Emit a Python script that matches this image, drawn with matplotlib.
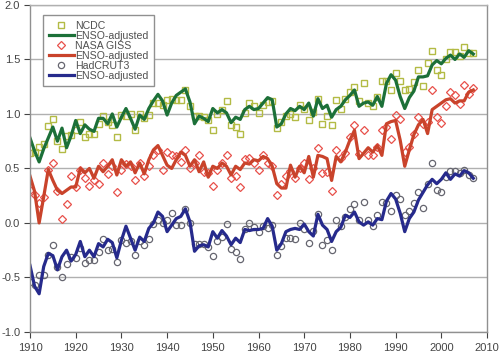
import matplotlib
matplotlib.use('Agg')
import matplotlib.pyplot as plt
import numpy as np

plt.rcParams['font.family'] = ['Liberation Sans', 'DejaVu Sans']

#Years
years = np.arange(1910, 2008)

#NCDC (offset) and ENSO-adjusted
ncdc = [0.64, 0.65, 0.70, 0.72, 0.89, 0.95, 0.75, 0.68, 0.80, 0.81,
        0.85, 0.93, 0.79, 0.82, 0.82, 0.91, 0.98, 0.93, 0.90, 0.79,
        0.99, 0.98, 1.00, 0.85, 1.00, 0.96, 0.99, 1.10, 1.10, 1.08,
        1.13, 1.14, 1.13, 1.13, 1.22, 1.07, 0.98, 0.98, 0.97, 0.94,
        0.85, 1.00, 1.04, 1.12, 0.90, 0.88, 0.82, 1.01, 1.10, 1.07,
        1.01, 1.08, 1.11, 1.12, 0.87, 0.93, 0.98, 1.00, 0.97, 1.08,
        1.05, 0.94, 1.02, 1.14, 0.91, 0.98, 0.90, 1.13, 1.05, 1.14,
        1.20, 1.25, 1.12, 1.28, 1.10, 1.07, 1.16, 1.30, 1.30, 1.22,
        1.38, 1.30, 1.22, 1.23, 1.29, 1.40, 1.26, 1.47, 1.58, 1.40,
        1.36, 1.50, 1.57, 1.57, 1.53, 1.61, 1.56, 1.56]
ncdc_adj = [0.78, 0.66, 0.56, 0.68, 0.78, 0.88, 0.75, 0.87, 0.69, 0.80,
            0.94, 0.82, 0.90, 0.86, 0.84, 0.96, 0.96, 0.91, 1.00, 0.88,
            0.97, 1.05, 0.96, 0.86, 0.99, 0.95, 1.05, 1.12, 1.18, 1.12,
            0.99, 1.10, 1.17, 1.20, 1.23, 1.11, 0.91, 0.98, 0.96, 0.93,
            1.05, 1.01, 1.04, 1.01, 0.92, 0.97, 0.95, 1.04, 1.07, 1.04,
            1.05, 1.10, 1.15, 1.13, 0.88, 0.91, 1.00, 1.05, 1.03, 1.07,
            1.04, 1.10, 0.98, 1.14, 1.05, 1.08, 0.97, 1.04, 1.07, 1.13,
            1.17, 1.22, 1.07, 1.10, 1.11, 1.08, 1.16, 1.07, 1.28, 1.36,
            1.31, 1.16, 1.05, 1.15, 1.21, 1.34, 1.34, 1.35, 1.45, 1.49,
            1.46, 1.51, 1.54, 1.50, 1.55, 1.52, 1.58, 1.55]

#NASA GISS (offset) and ENSO-adjusted
giss = [0.30, 0.26, 0.18, 0.24, 0.49, 0.55, 0.29, 0.04, 0.17, 0.43,
        0.33, 0.49, 0.41, 0.34, 0.39, 0.36, 0.55, 0.45, 0.52, 0.28,
        0.49, 0.54, 0.52, 0.39, 0.55, 0.43, 0.52, 0.62, 0.67, 0.49,
        0.65, 0.62, 0.61, 0.56, 0.67, 0.50, 0.55, 0.62, 0.47, 0.46,
        0.34, 0.49, 0.55, 0.62, 0.41, 0.43, 0.33, 0.59, 0.60, 0.55,
        0.49, 0.62, 0.55, 0.52, 0.26, 0.36, 0.43, 0.48, 0.41, 0.50,
        0.55, 0.40, 0.50, 0.69, 0.46, 0.47, 0.29, 0.67, 0.60, 0.64,
        0.79, 0.90, 0.63, 0.85, 0.62, 0.62, 0.70, 0.85, 0.88, 0.77,
        0.99, 0.95, 0.65, 0.70, 0.82, 0.97, 0.91, 0.93, 1.22, 0.97,
        0.92, 1.07, 1.20, 1.17, 1.09, 1.27, 1.18, 1.24]
giss_adj = [0.43, 0.29, 0.00, 0.24, 0.49, 0.39, 0.30, 0.27, 0.30, 0.33,
            0.33, 0.50, 0.46, 0.50, 0.41, 0.52, 0.47, 0.52, 0.58, 0.44,
            0.58, 0.52, 0.56, 0.46, 0.55, 0.45, 0.58, 0.67, 0.71, 0.62,
            0.53, 0.50, 0.58, 0.65, 0.62, 0.52, 0.58, 0.47, 0.56, 0.42,
            0.52, 0.50, 0.55, 0.52, 0.44, 0.52, 0.49, 0.55, 0.54, 0.58,
            0.57, 0.61, 0.59, 0.52, 0.36, 0.32, 0.32, 0.53, 0.42, 0.52,
            0.46, 0.61, 0.42, 0.62, 0.61, 0.59, 0.39, 0.61, 0.56, 0.65,
            0.76, 0.85, 0.59, 0.64, 0.69, 0.65, 0.71, 0.62, 0.91, 0.93,
            0.94, 0.76, 0.52, 0.67, 0.81, 0.90, 0.95, 0.82, 1.04, 1.07,
            1.10, 1.13, 1.14, 1.10, 1.12, 1.12, 1.20, 1.22]

#HadCRUT3 and ENSO-adjusted
hadcrut = [-0.54, -0.57, -0.48, -0.48, -0.29, -0.20, -0.40, -0.50, -0.38, -0.31,
           -0.32, -0.23, -0.37, -0.34, -0.34, -0.27, -0.15, -0.25, -0.24, -0.36,
           -0.16, -0.18, -0.17, -0.29, -0.17, -0.20, -0.15, -0.01, 0.03, 0.00,
           0.03, 0.09, -0.02, -0.02, 0.13, 0.00, -0.19, -0.19, -0.19, -0.22,
           -0.30, -0.17, -0.13, -0.01, -0.24, -0.27, -0.33, -0.06, 0.00, -0.04,
           -0.08, -0.03, -0.05, -0.02, -0.29, -0.21, -0.14, -0.14, -0.15, 0.00,
           -0.06, -0.18, -0.07, 0.08, -0.20, -0.16, -0.25, 0.03, -0.03, 0.05,
           0.13, 0.17, 0.03, 0.19, 0.03, -0.03, 0.07, 0.19, 0.18, 0.11,
           0.26, 0.22, 0.07, 0.11, 0.18, 0.28, 0.14, 0.36, 0.55, 0.30,
           0.28, 0.42, 0.48, 0.48, 0.46, 0.49, 0.44, 0.41]
hadcrut_adj = [-0.39, -0.58, -0.65, -0.40, -0.28, -0.30, -0.43, -0.31, -0.25, -0.35,
               -0.29, -0.17, -0.31, -0.25, -0.31, -0.19, -0.22, -0.15, -0.18, -0.32,
               -0.16, -0.03, -0.14, -0.25, -0.13, -0.17, -0.05, 0.00, 0.10, 0.06,
               -0.08, -0.02, 0.04, 0.06, 0.13, 0.01, -0.26, -0.21, -0.20, -0.22,
               -0.08, -0.14, -0.07, -0.12, -0.20, -0.14, -0.18, -0.06, -0.07, -0.06,
               -0.06, -0.05, 0.04, -0.03, -0.25, -0.19, -0.08, -0.06, -0.05, -0.06,
               -0.01, -0.08, -0.12, 0.08, -0.02, -0.06, -0.17, -0.08, -0.04, 0.07,
               0.05, 0.10, 0.01, -0.02, 0.01, -0.02, 0.04, 0.03, 0.20, 0.27,
               0.22, 0.09, -0.08, 0.04, 0.10, 0.21, 0.28, 0.35, 0.40, 0.36,
               0.40, 0.46, 0.40, 0.45, 0.43, 0.48, 0.46, 0.41]

### Plot ###
fig = plt.figure(figsize=(5.0, 3.55), dpi=100)
ax = fig.add_axes([0.06, 0.065, 0.914, 0.921])

ax.plot(years, ncdc, 's', mfc='none', mec='#b3bb45', ms=5.0, mew=1.0, label='NCDC')
ax.plot(years, ncdc_adj, '-', color='#1c7038', lw=2.3, label='ENSO-adjusted')
ax.plot(years, giss, 'D', mfc='none', mec='#e8504a', ms=4.0, mew=0.9, label='NASA GISS')
ax.plot(years, giss_adj, '-', color='#c9432b', lw=2.3, label='ENSO-adjusted')
ax.plot(years, hadcrut, 'o', mfc='none', mec='#666670', ms=4.5, mew=0.9, label='HadCRUT3')
ax.plot(years, hadcrut_adj, '-', color='#262a8c', lw=2.3, label='ENSO-adjusted')

ax.set_xlim(1910, 2010)
ax.set_ylim(-1.0, 2.0)
ax.set_xticks(np.arange(1910, 2011, 10))
ax.set_yticks(np.arange(-1.0, 2.01, 0.5))
ax.set_yticklabels(['%.1f' % v for v in np.arange(-1.0, 2.01, 0.5)])
ax.tick_params(labelsize=8, colors='#444444', length=4, width=0.8, direction='out', pad=3)
ax.tick_params(axis='x', pad=4)
ax.grid(axis='y', color='#b0b0b0', lw=1.0)
ax.set_axisbelow(True)
for s in ax.spines.values():
	s.set_color('#909090')
	s.set_linewidth(1.0)
ax.spines['top'].set_color('#b0b0b0')

leg = ax.legend(loc='upper left', bbox_to_anchor=(0.028, 0.97), borderaxespad=0,
                fontsize=7.6, frameon=True, fancybox=False, framealpha=1,
                handlelength=2.4, handletextpad=0.1, labelspacing=0.0,
                borderpad=0.55, edgecolor='#909090')
for t in leg.get_texts():
	t.set_color('#505050')

fig.savefig('out.png', dpi=100)
